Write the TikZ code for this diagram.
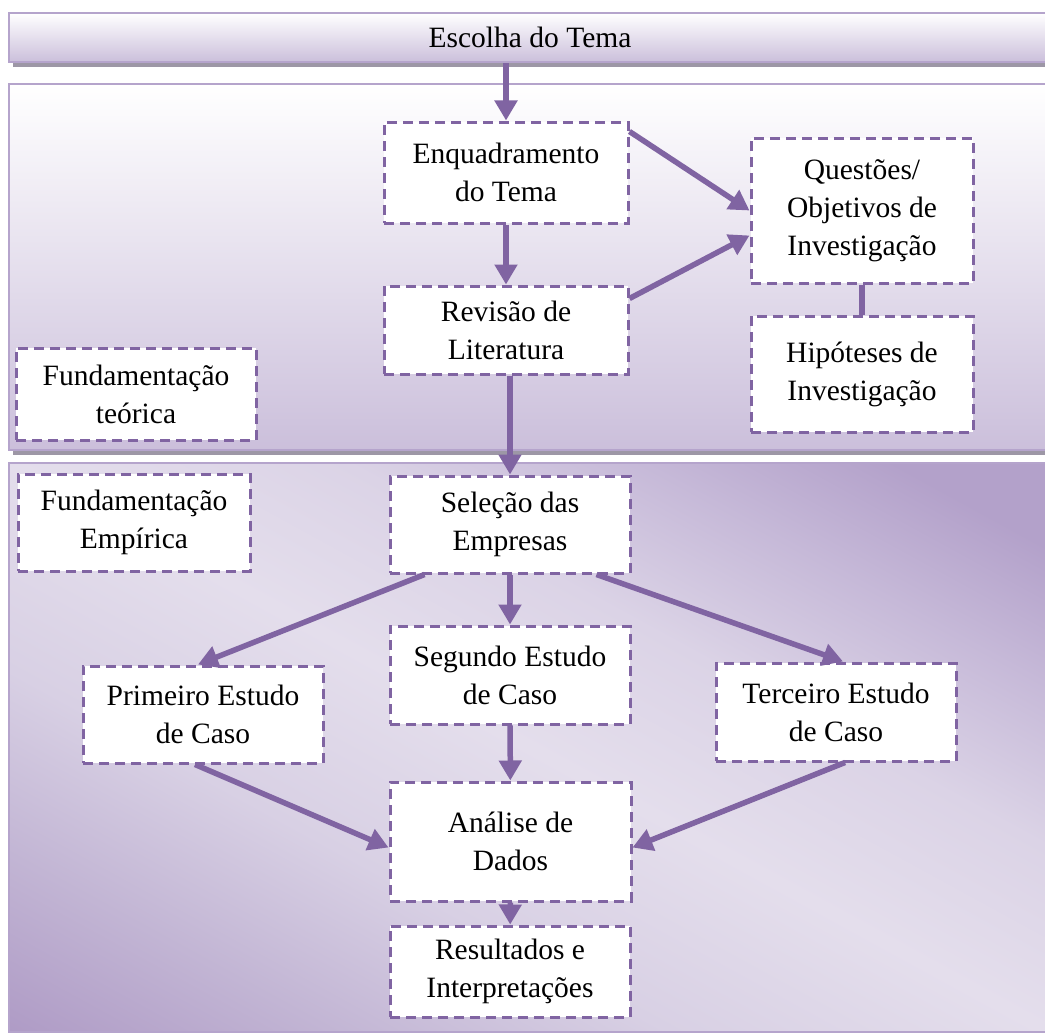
\documentclass[tikz,border=0pt]{standalone}
\usepackage{fontspec}
\setmainfont{Liberation Serif}
\usepackage{tikz}
\usetikzlibrary{positioning,arrows.meta,calc}
\definecolor{roxo}{HTML}{8064A2}
\definecolor{lilasborda}{HTML}{B5A4CC}
\definecolor{lilas}{HTML}{CBBFDB}
\definecolor{lilasescuro}{HTML}{AE9AC5}
\definecolor{lilasescurob}{HTML}{B3A1CA}
\definecolor{lilasmedio}{HTML}{C2B5D4}
\definecolor{lilasmediob}{HTML}{C6B9D8}
\definecolor{lilassuave}{HTML}{D8D0E4}
\definecolor{lilassuaveb}{HTML}{DBD3E6}
\definecolor{lilasclaro}{HTML}{E4DEEC}
\definecolor{sombra}{HTML}{9D97A6}
%degrade diagonal do segundo painel
\pgfdeclareverticalshading{painelgrad}{100bp}{color(0bp)=(lilasescuro); color(25bp)=(lilasescuro);
  color(33bp)=(lilasmedio); color(41bp)=(lilassuave); color(50bp)=(lilasclaro);
  color(58bp)=(lilassuaveb); color(65bp)=(lilasmediob); color(71bp)=(lilasescurob);
  color(100bp)=(lilasescurob)}
\tikzset{
  caixa/.style={draw=roxo, line width=3pt, dash pattern=on 10pt off 6pt, fill=white,
    align=center, inner sep=0pt, minimum width=240pt, minimum height=97pt,
    font=\fontsize{29.5}{38}\selectfont},
  fluxo/.style={draw=roxo, line width=5.5pt, -{Triangle[length=20pt,width=22pt]}},
  painel/.style={draw=lilasborda, line width=2.5pt},
}

\begin{document}
\begin{tikzpicture}[x=1pt, y=-1pt]
    \path[use as bounding box] (0,0) rectangle (1045,1033);
    \clip (0,0) rectangle (1045,1033);

    %fundos
    \fill[sombra] (13,17) rectangle (1050,67);
    \node[painel, top color=white, bottom color=lilas, minimum width=1042pt, minimum height=49pt,
      inner sep=0pt, font=\fontsize{29.5}{38}\selectfont] (tema) at (530,37.5) {Escolha do Tema};
    \fill[sombra] (13,88) rectangle (1050,455);
    \draw[painel, top color=white, bottom color=lilas] (9,84) rectangle (1050,450);
    \begin{scope}
      \clip (9,463) rectangle (1050,1032);
      \shade[shading=painelgrad, transform canvas={shift={(530,747.5)}, rotate=-28.7}]
        (-1200,-505) rectangle (1200,505);
    \end{scope}
    \draw[painel] (9,463) rectangle (1050,1032);

    %caixas
    \node[caixa, minimum width=244pt, minimum height=101pt] (enq) at (506,172.5) {Enquadramento\\do Tema};
    \node[caixa, minimum width=244pt, minimum height=88pt] (rev) at (506,330) {Revisão de\\Literatura};
    \node[caixa, minimum width=222pt, minimum height=145pt] (quest) at (862,210.5) {Questões/\\Objetivos de\\Investigação};
    \node[caixa, minimum width=222pt, minimum height=116pt] (hip) at (862,374) {Hipóteses de\\Investigação};
    \node[caixa, minimum height=92pt] (fteo) at (136,394) {Fundamentação\\teórica};
    \node[caixa, minimum width=232pt] (femp) at (134,522.5) {Fundamentação\\Empírica};
    \node[caixa] (sel) at (510,524.5) {Seleção das\\Empresas};
    \node[caixa, minimum height=98pt] (seg) at (510,675) {Segundo Estudo\\de Caso};
    \node[caixa] (prim) at (203,714.5) {Primeiro Estudo\\de Caso};
    \node[caixa, minimum height=98pt] (terc) at (836,712) {Terceiro Estudo\\de Caso};
    \node[caixa, minimum width=241pt, minimum height=119pt] (ana) at (510.5,841.5) {Análise de\\Dados};
    \node[caixa, minimum height=91pt] (res) at (510,971.5) {Resultados e\\Interpretações};

    %setas
    \draw[fluxo] (tema.south -| enq.north) -- (enq.north);
    \draw[fluxo] (enq) -- (rev);
    \draw[fluxo] ([yshift=-11pt]enq.north east) -- (quest.west);
    \draw[fluxo] ([yshift=-14pt]rev.north east) -- ([yshift=-25pt]quest.west);
    \draw[roxo, line width=5.5pt] (quest) -- (hip);
    \draw[fluxo] (rev.south -| sel.north) -- (sel.north);
    \draw[fluxo] ([xshift=36pt]sel.south west) -- ([xshift=-5pt]prim.north);
    \draw[fluxo] (sel) -- (seg);
    \draw[fluxo] ([xshift=-35pt]sel.south east) -- ([xshift=7pt]terc.north);
    \draw[fluxo] ([xshift=-8pt]prim.south) -- ([yshift=-6pt]ana.west);
    \draw[fluxo] ([xshift=9pt]terc.south) -- ([yshift=-6pt]ana.east);
    \draw[fluxo] (seg) -- (ana);
    \draw[fluxo] (ana) -- (res);
\end{tikzpicture}
\end{document}
